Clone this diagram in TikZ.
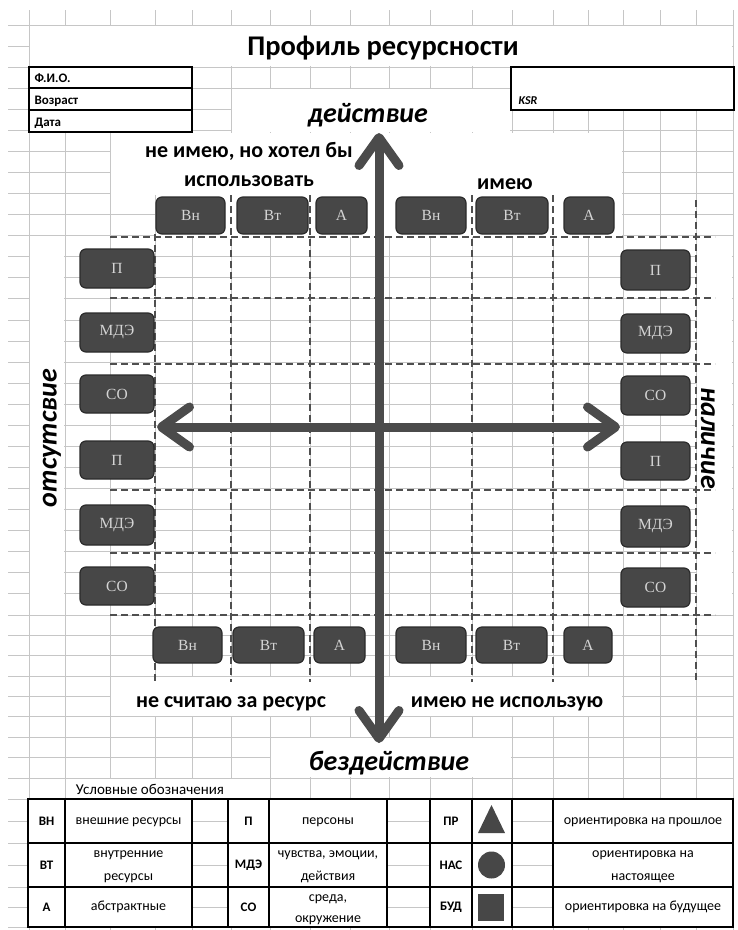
\documentclass[tikz,border=0pt]{standalone}
\usepackage{fontspec}
\setmainfont{Carlito}
\newfontfamily\boxfont{Liberation Serif}
\usetikzlibrary{arrows.meta}
\definecolor{gridc}{HTML}{C6C6C6}
\definecolor{boxfill}{HTML}{474747}
\definecolor{boxline}{HTML}{2B2B2B}
\definecolor{boxtext}{HTML}{D4D4D4}
\definecolor{arrowc}{HTML}{4B4B4B}
\definecolor{dashc}{HTML}{4F4F4F}
\definecolor{shapec}{HTML}{474747}
\newcommand\myfs[1]{\fontsize{#1}{#1}\selectfont}
\newcommand\bx[6]{\node[rbox, minimum width={(#4)-(#2)}, minimum height={(#5)-(#3)}] (#1) at ({((#2)+(#4))/2},{((#3)+(#5))/2}) {#6};}
\begin{document}
\begin{tikzpicture}[x=1pt,y=-1pt,
  gridline/.style={draw=gridc, line width=0.9pt},
  rbox/.style={draw=boxline, line width=1.2pt, fill=boxfill, rounded corners=6pt, text=boxtext, font=\boxfont\myfs{15.5}, inner sep=0pt},
  bigarrow/.style={draw=arrowc, line width=9pt, {Straight Barb[length=28pt,width=40pt,round]}-{Straight Barb[length=28pt,width=40pt,round]}},
  dashline/.style={draw=dashc, line width=1.3pt, dash pattern=on 7pt off 4pt},
  frame/.style={draw=black, line width=2pt},
  titlef/.style={font=\bfseries\myfs{28.5}, anchor=base},
  lab/.style={font=\bfseries\myfs{22}, anchor=base},
  axislab/.style={font=\bfseries\itshape\myfs{28}},
  info/.style={font=\bfseries\myfs{13}, anchor=base west},
  leg/.style={font=\myfs{14}, text height=6.5pt, text depth=0pt, inner sep=0pt},
  legb/.style={font=\bfseries\myfs{13}}
]
\useasboundingbox (0,0) rectangle (738,930);
\fill[white] (0,0) rectangle (738,930);
% spreadsheet grid
\foreach \x in {29,65,110,155,192,231,270,310,350,389,430,472,512,553,588,623,660,696,733}
  \draw[gridline] (\x,10) -- (\x,930);
\foreach \k in {0,...,28} \draw[gridline] (8,{25+21.07*\k}) -- (733,{25+21.07*\k});
\foreach \y in {635.4,655.8,676.1,696.5,716.9,737.3,757.6,778,799,821,843,865,887,907,927}
  \draw[gridline] (8,\y) -- (733,\y);
% merged (white) areas
\fill[white] (29.6,25.6) rectangle (732.4,66.4);
\fill[white] (231.6,88.5) rectangle (510,131.5);
\fill[white] (110.6,132.5) rectangle (622.4,194.5);
\fill[white] (155.6,194) rectangle (622.4,236.5);
\fill[white] (29.6,237.5) rectangle (64.4,614.5);
\fill[white] (696.6,237.5) rectangle (732.4,614.5);
\fill[white] (110.6,676.8) rectangle (622.4,716.2);
\fill[white] (270.6,738) rectangle (511.4,777.3);
\fill[white] (65.6,778.6) rectangle (268.4,798.4);
% header boxes
\fill[white] (29,67) rectangle (192,132);
\draw[frame] (29,67) rectangle (192,132);
\draw[frame] (29,88) -- (192,88);
\draw[frame] (29,110) -- (192,110);
\fill[white] (511,67) rectangle (734,110);
\draw[frame] (511,67) rectangle (734,110);
\node[info] (fio) at (31,82) {Ф.И.О.};
\node[info] (age) at (31,104) {Возраст};
\node[info] (date) at (31,126) {Дата};
\node[info, font=\bfseries\itshape\myfs{12}] (ksr) at (515,104) {KSR};
\node[titlef] (title) at (383,55) {Профиль ресурсности};
% dashed grid
\foreach \y in {237,298,364,490,553,615} \draw[dashline] (110,\y) -- (715,\y);
\draw[dashline] (155,234) -- (155,682);
\foreach \x in {231,310,472,553} \draw[dashline] (\x,195) -- (\x,682);
\draw[dashline] (696,200) -- (696,682);
% axes
\coordinate (vt) at (379,133);
\coordinate (vb) at (379,743);
\coordinate (hl) at (157,427);
\coordinate (hr) at (620,427);
\draw[bigarrow] (vt) -- (vb);
\draw[bigarrow] (hl) -- (hr);
% boxes
\bx{tlvn}{156}{197}{225}{234}{Вн}
\bx{tlvt}{237}{197}{308}{234}{Вт}
\bx{tla}{316}{197}{367}{234}{А}
\bx{trvn}{396}{197}{466}{234}{Вн}
\bx{trvt}{476}{197}{548}{234}{Вт}
\bx{tra}{564}{197}{614}{234}{А}
\bx{lp1}{80}{249}{154}{288}{П}
\bx{lm1}{80}{313}{154}{352}{МДЭ}
\bx{ls1}{80}{375}{154}{413}{СО}
\bx{lp2}{80}{441}{154}{479}{П}
\bx{lm2}{80}{505}{154}{545}{МДЭ}
\bx{ls2}{80}{567}{154}{605}{СО}
\bx{rp1}{621}{250}{690}{290}{П}
\bx{rm1}{621}{314}{690}{353}{МДЭ}
\bx{rs1}{621}{376}{690}{415}{СО}
\bx{rp2}{621}{442}{690}{480}{П}
\bx{rm2}{621}{506}{690}{547}{МДЭ}
\bx{rs2}{621}{568}{690}{607}{СО}
\bx{blvn}{153}{627}{222}{663}{Вн}
\bx{blvt}{233}{627}{304}{663}{Вт}
\bx{bla}{314}{627}{365}{663}{А}
\bx{brvn}{396}{627}{466}{663}{Вн}
\bx{brvt}{476}{627}{547}{663}{Вт}
\bx{bra}{564}{627}{612}{663}{А}
% labels
\node[axislab, anchor=base] (act) at (368,122) {действие};
\node[axislab, anchor=base] (inact) at (389,770) {бездействие};
\node[axislab, rotate=90] (absent) at (52,438) {отсутсвие};
\node[axislab, rotate=-90] (present) at (708,438) {наличие};
\node[lab] (q1a) at (249,157) {не имею, но хотел бы};
\node[lab] (q1b) at (249,186) {использовать};
\node[lab] (q2) at (505,189) {имею};
\node[lab] (q3) at (231,707) {не считаю за ресурс};
\node[lab] (q4) at (507,707) {имею не использую};
% legend
\node[font=\myfs{15}] (legtitle) at (150,789) {Условные обозначения};
\fill[white] (28,799) rectangle (733,927);
\foreach \y in {821,865,907} {
  \draw[gridline] (192,\y) -- (228,\y);
  \draw[gridline] (387,\y) -- (430,\y);
  \draw[gridline] (512,\y) -- (553,\y);
}
\draw[frame, line width=2.4pt] (28,799) rectangle (733,927);
\foreach \y in {843,887} \draw[frame, line width=2.4pt] (28,\y) -- (733,\y);
\foreach \x in {65,192,228,269,387,430,472,512,553} \draw[frame, line width=2.4pt] (\x,799) -- (\x,927);
\node[legb] (kvn) at (46.5,821) {ВН};
\node[leg] (dvn) at (128.5,821) {внешние ресурсы};
\node[legb] (kvt) at (46.5,865) {ВТ};
\node[leg] (dvta) at (128.5,854) {внутренние};
\node[leg] (dvtb) at (128.5,877) {ресурсы};
\node[legb] (ka) at (46.5,907) {А};
\node[leg] (da) at (128.5,907) {абстрактные};
\node[legb] (kp) at (248.5,821) {П};
\node[leg] (dp) at (328,821) {персоны};
\node[legb] (km) at (248.5,865) {МДЭ};
\node[leg] (dma) at (328,854) {чувства, эмоции,};
\node[leg] (dmb) at (328,877) {действия};
\node[legb] (ks) at (248.5,907) {СО};
\node[leg] (dsa) at (328,898) {среда,};
\node[leg] (dsb) at (328,919) {окружение};
\node[legb] (kpr) at (451,821) {ПР};
\node[legb] (knas) at (451,865) {НАС};
\node[legb] (kbud) at (451,907) {БУД};
\fill[shapec] (478,833) -- (491.5,805) -- (505,833) -- cycle;
\fill[shapec] (491.5,865) circle (13.5);
\fill[shapec] (478,894) rectangle (504,921);
\node[leg] (dpr) at (643,821) {ориентировка на прошлое};
\node[leg] (dnasa) at (643,854) {ориентировка на};
\node[leg] (dnasb) at (643,877) {настоящее};
\node[leg] (dbud) at (643,907) {ориентировка на будущее};
\end{tikzpicture}
\end{document}
